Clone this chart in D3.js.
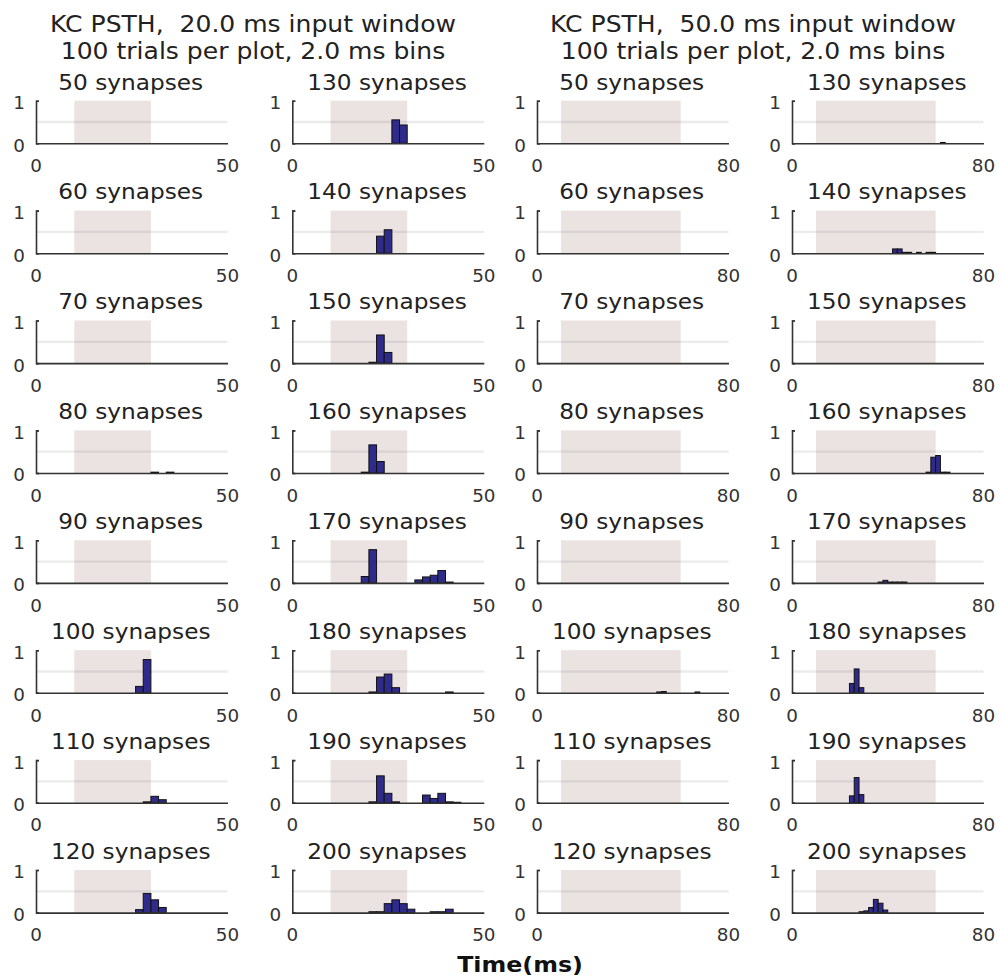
<!DOCTYPE html>
<html>
<head>
<meta charset="utf-8">
<script src="https://cdn.jsdelivr.net/npm/d3@7/dist/d3.min.js"></script>
<style>
  body { margin: 0; background: #fff; }
  text { font-family: "DejaVu Sans", sans-serif; fill: #222; white-space: pre; }
</style>
</head>
<body>
<svg id="chart" width="1000" height="978"></svg>
<script>
// synapse counts, one panel each (left column 50-120, right column 130-200)
var synapseCounts = [50, 60, 70, 80, 90, 100, 110, 120, 130, 140, 150, 160, 170, 180, 190, 200];

// the two experiments
var inputWindows = [20.0, 50.0];
var xMaxes = [50, 80];
var shadeSpans = [[10, 30], [10, 60]];
var binWidth = 2.0;
var trialsPerPlot = 100;

// histogram bins: [bin start (ms), fraction of trials]
var hist20 = [
  [], [], [], [[30, 0.02], [34, 0.02]], [], [[26, 0.15], [28, 0.78]], [[28, 0.02], [30, 0.15], [32, 0.07]],
  [[26, 0.07], [28, 0.45], [30, 0.30], [32, 0.12]],
  [[26, 0.55], [28, 0.43]],
  [[22, 0.40], [24, 0.55]],
  [[20, 0.02], [22, 0.66], [24, 0.25]],
  [[18, 0.02], [20, 0.66], [22, 0.27]],
  [[18, 0.15], [20, 0.78], [32, 0.07], [34, 0.14], [36, 0.18], [38, 0.29], [40, 0.02]],
  [[20, 0.02], [22, 0.37], [24, 0.44], [26, 0.12], [40, 0.02]],
  [[20, 0.02], [22, 0.63], [24, 0.22], [26, 0.02], [34, 0.18], [36, 0.10], [38, 0.22], [40, 0.02], [42, 0.01]],
  [[20, 0.02], [22, 0.02], [24, 0.21], [26, 0.30], [28, 0.21], [30, 0.08], [36, 0.02], [38, 0.02], [40, 0.08]]
];
var hist50 = [
  [], [], [], [], [], [[50, 0.02], [52, 0.03], [66, 0.02]], [], [],
  [[62, 0.02]],
  [[42, 0.10], [44, 0.10], [46, 0.02], [48, 0.02], [52, 0.02], [56, 0.02], [58, 0.02]],
  [],
  [[56, 0.02], [58, 0.37], [60, 0.41], [62, 0.02], [64, 0.02]],
  [[36, 0.02], [38, 0.06], [40, 0.02], [42, 0.02], [44, 0.02], [46, 0.02]],
  [[24, 0.22], [26, 0.56], [28, 0.12]],
  [[24, 0.16], [26, 0.59], [28, 0.19]],
  [[28, 0.02], [30, 0.04], [32, 0.12], [34, 0.31], [36, 0.22], [38, 0.06]]
];

// layout
var colLeft = [36, 292.3, 537, 792];
var plotW = 191.5;
var plotH = 42.6;
var firstBase = 143.3;
var rowStep = 109.9;
var stretch = 1.08;   // text in the picture is a bit wider than DejaVu

var svg = d3.select("#chart");

function addText(g, x, y, str, size, anchor, weight) {
  return g.append("text")
    .attr("transform", `translate(${x},${y}) scale(${stretch},1)`)
    .attr("text-anchor", anchor)
    .style("font-size", size + "px")
    .style("font-weight", weight || "normal")
    .text(str);
}

// figure titles
inputWindows.forEach(function(w, k) {
  var cx = 253 + k * 500;
  addText(svg, cx, 31.5, `KC PSTH,  ${w.toFixed(1)} ms input window`, 23.2, "middle");
  addText(svg, cx, 58.5, `${trialsPerPlot} trials per plot, ${binWidth.toFixed(1)} ms bins`, 23.2, "middle");
});

var yScale = d3.scaleLinear().domain([0, 1]).range([plotH, 0]);

function drawPanel(col, row, k, n, bins) {
  var x0 = colLeft[col];
  var base = firstBase + row * rowStep;
  var g = svg.append("g").attr("transform", `translate(${x0},${base - plotH})`);

  var xScale = d3.scaleLinear().domain([0, xMaxes[k]]).range([0, plotW]);

  // input window
  g.append("rect")
    .attr("x", xScale(shadeSpans[k][0]))
    .attr("y", yScale(1))
    .attr("width", xScale(shadeSpans[k][1]) - xScale(shadeSpans[k][0]))
    .attr("height", yScale(0) - yScale(1))
    .attr("fill", "#ebe2e2");

  // 0.5 reference line
  g.append("line")
    .attr("x1", xScale(0)).attr("x2", xScale(xMaxes[k]))
    .attr("y1", yScale(0.5)).attr("y2", yScale(0.5))
    .attr("stroke", "#7a7a7a")
    .attr("stroke-opacity", 0.15)
    .attr("stroke-width", 2.3);

  // bars
  g.selectAll("rect.bar")
    .data(bins)
    .enter()
    .append("rect")
    .attr("class", "bar")
    .attr("x", d => xScale(d[0]))
    .attr("y", d => yScale(d[1]))
    .attr("width", d => xScale(d[0] + binWidth) - xScale(d[0]))
    .attr("height", d => yScale(0) - yScale(d[1]))
    .attr("fill", "#2e2b8a")
    .attr("stroke", "#111")
    .attr("stroke-width", 1);

  // axes
  var bottomAxis = d3.axisBottom(xScale).tickValues([0, xMaxes[k]]).tickSize(0).tickFormat("");
  var leftAxis = d3.axisLeft(yScale).tickValues([0, 1]).tickSize(-3).tickFormat("");

  var gx = g.append("g").attr("transform", `translate(0,${plotH})`).call(bottomAxis);
  var gy = g.append("g").call(leftAxis);
  [gx, gy].forEach(function(a) {
    a.select(".domain").attr("stroke", "#333").attr("stroke-width", 1.6);
    a.selectAll(".tick line").attr("stroke", "#333").attr("stroke-width", 1.3);
  });

  // tick labels
  [0, xMaxes[k]].forEach(function(v) {
    addText(g, xScale(v), plotH + 28.7, String(v), 17, "middle").style("fill", "#333");
  });
  [0, 1].forEach(function(v) {
    addText(g, -11, yScale(v) + 8.4, String(v), 17, "end").style("fill", "#333");
  });

  // panel title
  addText(g, plotW / 2 - 1, -(base - plotH) + 89.5 + row * rowStep, `${n} synapses`, 21.5, "middle");
}

synapseCounts.forEach(function(n, i) {
  var row = i % 8;
  var half = Math.floor(i / 8);
  drawPanel(half, row, 0, n, hist20[i]);
  drawPanel(2 + half, row, 1, n, hist50[i]);
});

// shared x label
addText(svg, 520, 972, "Time(ms)", 22, "middle", "bold").style("fill", "#111");
</script>
</body>
</html>
